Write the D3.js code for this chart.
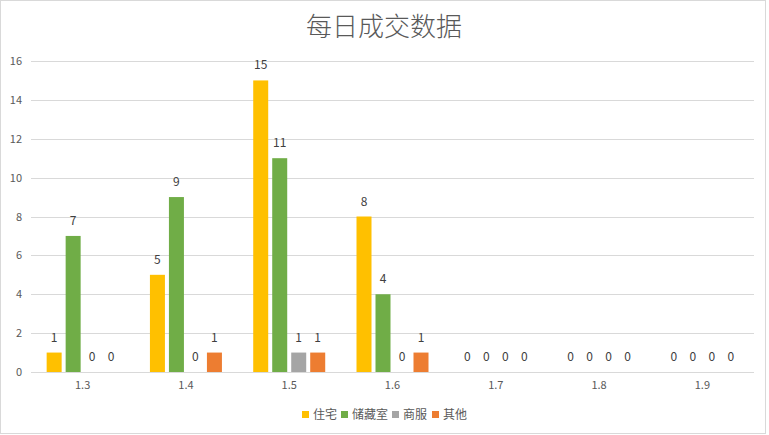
<!DOCTYPE html>
<html>
<head>
<meta charset="utf-8">
<script src="https://cdn.jsdelivr.net/npm/d3@7"></script>
<style>
  body { margin: 0; background: #fff; }
  text { font-family: "Microsoft YaHei", "Noto Sans CJK SC", sans-serif; }
</style>
</head>
<body>
<script>
let categories = ['1.3', '1.4', '1.5', '1.6', '1.7', '1.8', '1.9'];
let seriesNames = ['住宅', '储藏室', '商服', '其他'];
let seriesColors = ['#FFC000', '#70AD47', '#A5A5A5', '#ED7D31'];
let residential = [1, 5, 15, 8, 0, 0, 0];
let storage = [7, 9, 11, 4, 0, 0, 0];
let commercial = [0, 0, 1, 0, 0, 0, 0];
let other = [0, 1, 1, 1, 0, 0, 0];
let yTicks = [0, 2, 4, 6, 8, 10, 12, 14, 16];
let title = '每日成交数据';

let seriesValues = [residential, storage, commercial, other];

let width = 769, height = 435;
let svg = d3.select('body').append('svg').attr('width', width).attr('height', height);

// chart border
svg.append('rect')
    .attr('x', 0.5).attr('y', 0.5)
    .attr('width', 765).attr('height', 433)
    .attr('fill', '#fff').attr('stroke', '#d9d9d9');

svg.append('text')
    .attr('x', 384).attr('y', 36)
    .attr('text-anchor', 'middle')
    .attr('font-size', '26px')
    .attr('font-weight', 300)
    .attr('fill', '#595959')
    .text(title);

let x0 = d3.scaleBand().domain(categories).range([31, 754]);
let x1 = d3.scaleBand().domain(seriesNames).range([0, 72]).paddingInner(4 / 19);
let y = d3.scaleLinear().domain([0, 16]).range([372, 61]);

// gridlines
svg.append('g').selectAll('line').data(yTicks).enter().append('line')
    .attr('x1', 31).attr('x2', 754)
    .attr('y1', d => Math.round(y(d)) + 0.5)
    .attr('y2', d => Math.round(y(d)) + 0.5)
    .attr('stroke', '#d9d9d9');

// y axis labels
let yAxis = svg.append('g').attr('transform', 'translate(31,0)')
    .call(d3.axisLeft(y).tickValues(yTicks).tickSize(0).tickPadding(9));
yAxis.select('.domain').remove();
yAxis.selectAll('text')
    .attr('font-family', '"Microsoft YaHei", "Noto Sans CJK SC", sans-serif')
    .attr('font-size', '11px').attr('fill', '#595959');

// x axis labels
let xAxis = svg.append('g').attr('transform', 'translate(0,372)')
    .call(d3.axisBottom(x0).tickSize(0).tickPadding(9));
xAxis.select('.domain').remove();
xAxis.selectAll('text')
    .attr('font-family', '"Microsoft YaHei", "Noto Sans CJK SC", sans-serif')
    .attr('font-size', '11px').attr('fill', '#595959');

let offset = (x0.bandwidth() - 72) / 2;

let groups = svg.append('g').selectAll('g').data(categories).enter().append('g')
    .attr('transform', d => 'translate(' + (x0(d) + offset) + ',0)');

let cells = groups.selectAll('g').data((c, ci) => seriesNames.map((s, si) => ({s: s, si: si, v: seriesValues[si][ci]})))
    .enter().append('g');

cells.append('rect')
    .attr('x', d => x1(d.s))
    .attr('y', d => y(d.v))
    .attr('width', x1.bandwidth())
    .attr('height', d => y(0) - y(d.v))
    .attr('fill', d => seriesColors[d.si]);

cells.append('text')
    .attr('x', d => x1(d.s) + x1.bandwidth() / 2)
    .attr('y', d => y(d.v) - 11)
    .attr('text-anchor', 'middle')
    .attr('font-size', '12px')
    .attr('fill', '#404040')
    .text(d => d.v);

// legend
let legendX = [302, 341, 392, 432];
let legend = svg.append('g').selectAll('g').data(seriesNames).enter().append('g')
    .attr('transform', (d, i) => 'translate(' + legendX[i] + ',411)');
legend.append('rect')
    .attr('width', 7).attr('height', 7)
    .attr('fill', (d, i) => seriesColors[i]);
legend.append('text')
    .attr('x', 11).attr('y', 8)
    .attr('font-size', '12px')
    .attr('fill', '#595959')
    .text(d => d);
</script>
</body>
</html>
